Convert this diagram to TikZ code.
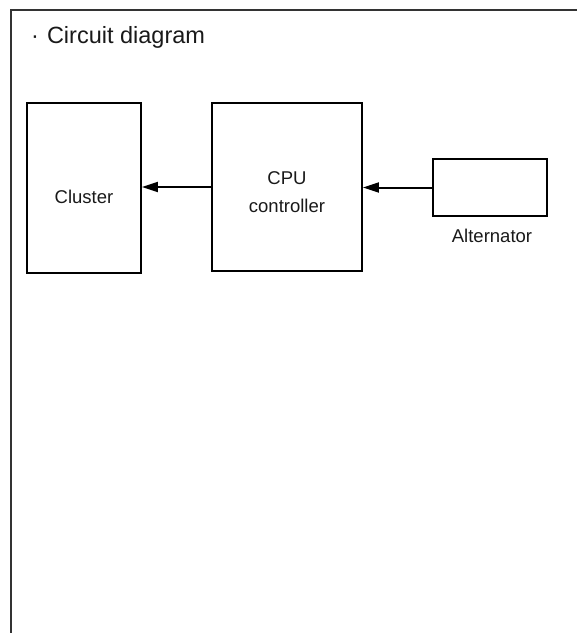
\documentclass[tikz,border=0pt]{standalone}
\usepackage{fontspec}
\setmainfont{Liberation Sans}
\usetikzlibrary{arrows.meta}
\begin{document}
\begin{tikzpicture}[x=1pt,y=-1pt,
  blockbox/.style={draw=black,line width=1.8pt,rectangle,inner sep=0pt,fill=white},
  lbl/.style={inner sep=0pt,anchor=base,font=\fontsize{18.5}{22}\selectfont,text=black!90},
  conn/.style={line width=2pt,-{Triangle[length=16pt,width=10pt]}},
  frame/.style={draw=black!80,line width=1.6pt}]
\useasboundingbox (0,0) rectangle (577,633);
\coordinate (ftr) at (577,10);
\coordinate (ftl) at (11,10);
\coordinate (fbl) at (11,633);
\draw[frame] (ftr) -- (ftl) -- (fbl);
\node[inner sep=0pt,anchor=base west,font=\fontsize{23.5}{27}\selectfont,text=black!90] (title) at (31,43) {·\hspace{8pt}Circuit diagram};
\node[blockbox,minimum width=114pt,minimum height=170pt] (cluster) at (84,188) {};
\node[blockbox,minimum width=150pt,minimum height=168pt] (cpu) at (287,187) {};
\node[blockbox,minimum width=114pt,minimum height=57pt] (alt) at (490,187.5) {};
\node[lbl] (clusterlbl) at (84,203) {Cluster};
\node[lbl] (cpulbl) at (287,184) {CPU};
\node[lbl] (ctrllbl) at (287,212) {controller};
\node[lbl] (altlbl) at (492,242) {Alternator};
\draw[conn] (cpu.west) -- (cpu.west -| cluster.east);
\draw[conn] (alt.west) -- (alt.west -| cpu.east);
\end{tikzpicture}
\end{document}
